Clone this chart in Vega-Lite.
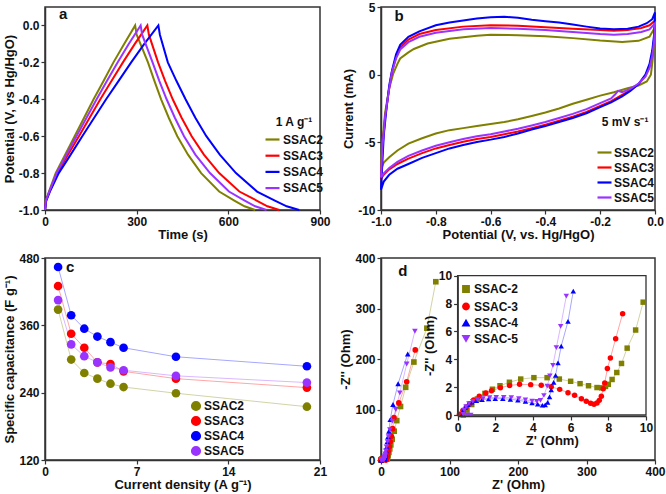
{
"$schema": "https://vega.github.io/schema/vega-lite/v6.json",
"padding": {"left": 2, "top": 0, "right": 0, "bottom": 2},
"background": "white",
"config": {
 "font": "Liberation Sans",
 "locale": {"number": {"decimal": ".", "thousands": ",", "grouping": [3], "currency": ["$", ""], "minus": "-"}},
 "view": {"stroke": "#333333", "strokeWidth": 1.5},
 "axis": {"grid": false, "labelFont": "Liberation Sans", "labelFontSize": 12, "labelFontWeight": "bold", "labelColor": "#111111", "titleFont": "Liberation Sans", "titleFontSize": 13, "titleFontWeight": "bold", "titleColor": "#111111", "domainColor": "#333333", "domainWidth": 1.5, "tickColor": "#333333", "tickSize": 4, "tickWidth": 1.2, "labelFlush": false, "labelOverlap": false, "labelPadding": 2, "titlePadding": 2},
 "legend": {"labelFont": "Liberation Sans", "labelFontSize": 12, "labelFontWeight": "bold", "labelColor": "#111111", "titleFont": "Liberation Sans", "titleFontSize": 12, "titleFontWeight": "bold", "titleColor": "#111111", "padding": 0, "rowPadding": 3, "labelOffset": 2, "zindex": 2, "symbolOpacity": 1}
},
"datasets": {
 "ga": [
  {"s":"SSAC2","t":0,"v":-1},{"s":"SSAC2","t":3,"v":-0.95},{"s":"SSAC2","t":13,"v":-0.9},{"s":"SSAC2","t":35,"v":-0.8},{"s":"SSAC2","t":66,"v":-0.7},{"s":"SSAC2","t":97,"v":-0.6},{"s":"SSAC2","t":128,"v":-0.5},{"s":"SSAC2","t":159,"v":-0.4},{"s":"SSAC2","t":192,"v":-0.3},{"s":"SSAC2","t":224,"v":-0.2},{"s":"SSAC2","t":259,"v":-0.1},{"s":"SSAC2","t":295,"v":0},
  {"s":"SSAC2","t":300,"v":-0.05},{"s":"SSAC2","t":337,"v":-0.2},{"s":"SSAC2","t":358,"v":-0.3},{"s":"SSAC2","t":380,"v":-0.4},{"s":"SSAC2","t":405,"v":-0.5},{"s":"SSAC2","t":433,"v":-0.6},{"s":"SSAC2","t":468,"v":-0.7},{"s":"SSAC2","t":511,"v":-0.8},{"s":"SSAC2","t":570,"v":-0.9},{"s":"SSAC2","t":621,"v":-0.95},{"s":"SSAC2","t":653,"v":-0.98},{"s":"SSAC2","t":688,"v":-1},
  {"s":"SSAC3","t":0,"v":-1},{"s":"SSAC3","t":3,"v":-0.95},{"s":"SSAC3","t":15,"v":-0.9},{"s":"SSAC3","t":40,"v":-0.8},{"s":"SSAC3","t":75,"v":-0.7},{"s":"SSAC3","t":111,"v":-0.6},{"s":"SSAC3","t":146,"v":-0.5},{"s":"SSAC3","t":181,"v":-0.4},{"s":"SSAC3","t":218,"v":-0.3},{"s":"SSAC3","t":255,"v":-0.2},{"s":"SSAC3","t":294,"v":-0.1},{"s":"SSAC3","t":335,"v":0},
  {"s":"SSAC3","t":340,"v":-0.05},{"s":"SSAC3","t":370,"v":-0.2},{"s":"SSAC3","t":393,"v":-0.3},{"s":"SSAC3","t":418,"v":-0.4},{"s":"SSAC3","t":447,"v":-0.5},{"s":"SSAC3","t":480,"v":-0.6},{"s":"SSAC3","t":520,"v":-0.7},{"s":"SSAC3","t":570,"v":-0.8},{"s":"SSAC3","t":636,"v":-0.9},{"s":"SSAC3","t":694,"v":-0.95},{"s":"SSAC3","t":728,"v":-0.98},{"s":"SSAC3","t":767,"v":-1},
  {"s":"SSAC4","t":0,"v":-1},{"s":"SSAC4","t":4,"v":-0.95},{"s":"SSAC4","t":16,"v":-0.9},{"s":"SSAC4","t":45,"v":-0.8},{"s":"SSAC4","t":84,"v":-0.7},{"s":"SSAC4","t":122,"v":-0.6},{"s":"SSAC4","t":161,"v":-0.5},{"s":"SSAC4","t":200,"v":-0.4},{"s":"SSAC4","t":241,"v":-0.3},{"s":"SSAC4","t":282,"v":-0.2},{"s":"SSAC4","t":325,"v":-0.1},{"s":"SSAC4","t":371,"v":0},
  {"s":"SSAC4","t":376,"v":-0.05},{"s":"SSAC4","t":402,"v":-0.2},{"s":"SSAC4","t":430,"v":-0.3},{"s":"SSAC4","t":460,"v":-0.4},{"s":"SSAC4","t":492,"v":-0.5},{"s":"SSAC4","t":528,"v":-0.6},{"s":"SSAC4","t":572,"v":-0.7},{"s":"SSAC4","t":625,"v":-0.8},{"s":"SSAC4","t":694,"v":-0.9},{"s":"SSAC4","t":754,"v":-0.95},{"s":"SSAC4","t":791,"v":-0.98},{"s":"SSAC4","t":832,"v":-1},
  {"s":"SSAC5","t":0,"v":-1},{"s":"SSAC5","t":3,"v":-0.95},{"s":"SSAC5","t":14,"v":-0.9},{"s":"SSAC5","t":38,"v":-0.8},{"s":"SSAC5","t":70,"v":-0.7},{"s":"SSAC5","t":103,"v":-0.6},{"s":"SSAC5","t":136,"v":-0.5},{"s":"SSAC5","t":169,"v":-0.4},{"s":"SSAC5","t":203,"v":-0.3},{"s":"SSAC5","t":238,"v":-0.2},{"s":"SSAC5","t":274,"v":-0.1},{"s":"SSAC5","t":313,"v":0},
  {"s":"SSAC5","t":318,"v":-0.05},{"s":"SSAC5","t":352,"v":-0.2},{"s":"SSAC5","t":374,"v":-0.3},{"s":"SSAC5","t":398,"v":-0.4},{"s":"SSAC5","t":425,"v":-0.5},{"s":"SSAC5","t":455,"v":-0.6},{"s":"SSAC5","t":492,"v":-0.7},{"s":"SSAC5","t":540,"v":-0.8},{"s":"SSAC5","t":602,"v":-0.9},{"s":"SSAC5","t":655,"v":-0.95},{"s":"SSAC5","t":688,"v":-0.98},{"s":"SSAC5","t":725,"v":-1}
 ],
 "gb": [
  {"s":"SSAC2","x":-1,"y":-7.0},{"s":"SSAC2","x":-0.995,"y":-5.0},{"s":"SSAC2","x":-0.985,"y":-2.8},{"s":"SSAC2","x":-0.97,"y":-1.0},{"s":"SSAC2","x":-0.955,"y":0.1},{"s":"SSAC2","x":-0.94,"y":0.8},{"s":"SSAC2","x":-0.93,"y":1.2},{"s":"SSAC2","x":-0.9,"y":1.65},{"s":"SSAC2","x":-0.88,"y":1.9},{"s":"SSAC2","x":-0.83,"y":2.3},{"s":"SSAC2","x":-0.75,"y":2.65},{"s":"SSAC2","x":-0.65,"y":2.88},{"s":"SSAC2","x":-0.6,"y":2.95},{"s":"SSAC2","x":-0.5,"y":2.92},{"s":"SSAC2","x":-0.4,"y":2.83},{"s":"SSAC2","x":-0.3,"y":2.7},{"s":"SSAC2","x":-0.2,"y":2.52},{"s":"SSAC2","x":-0.12,"y":2.42},{"s":"SSAC2","x":-0.06,"y":2.5},{"s":"SSAC2","x":-0.02,"y":2.8},{"s":"SSAC2","x":0,"y":3.5},
  {"s":"SSAC2","x":-0.003,"y":2.5},{"s":"SSAC2","x":-0.008,"y":1.2},{"s":"SSAC2","x":-0.015,"y":0},{"s":"SSAC2","x":-0.03,"y":-0.5},{"s":"SSAC2","x":-0.06,"y":-0.8},{"s":"SSAC2","x":-0.1,"y":-1.0},{"s":"SSAC2","x":-0.15,"y":-1.3},{"s":"SSAC2","x":-0.2,"y":-1.55},{"s":"SSAC2","x":-0.25,"y":-1.85},{"s":"SSAC2","x":-0.3,"y":-2.15},{"s":"SSAC2","x":-0.35,"y":-2.5},{"s":"SSAC2","x":-0.4,"y":-2.8},{"s":"SSAC2","x":-0.45,"y":-3.05},{"s":"SSAC2","x":-0.5,"y":-3.3},{"s":"SSAC2","x":-0.55,"y":-3.5},{"s":"SSAC2","x":-0.6,"y":-3.65},{"s":"SSAC2","x":-0.65,"y":-3.8},{"s":"SSAC2","x":-0.7,"y":-3.95},{"s":"SSAC2","x":-0.75,"y":-4.1},{"s":"SSAC2","x":-0.8,"y":-4.35},{"s":"SSAC2","x":-0.85,"y":-4.7},{"s":"SSAC2","x":-0.9,"y":-5.1},{"s":"SSAC2","x":-0.94,"y":-5.6},{"s":"SSAC2","x":-0.97,"y":-6.1},{"s":"SSAC2","x":-0.99,"y":-6.5},{"s":"SSAC2","x":-1,"y":-7.0},
  {"s":"SSAC3","x":-1,"y":-7.7},{"s":"SSAC3","x":-0.995,"y":-5.5},{"s":"SSAC3","x":-0.985,"y":-3.2},{"s":"SSAC3","x":-0.97,"y":-1.0},{"s":"SSAC3","x":-0.96,"y":0.2},{"s":"SSAC3","x":-0.945,"y":1.3},{"s":"SSAC3","x":-0.93,"y":2.0},{"s":"SSAC3","x":-0.9,"y":2.6},{"s":"SSAC3","x":-0.86,"y":3.0},{"s":"SSAC3","x":-0.8,"y":3.3},{"s":"SSAC3","x":-0.7,"y":3.55},{"s":"SSAC3","x":-0.6,"y":3.65},{"s":"SSAC3","x":-0.5,"y":3.62},{"s":"SSAC3","x":-0.4,"y":3.5},{"s":"SSAC3","x":-0.3,"y":3.4},{"s":"SSAC3","x":-0.2,"y":3.3},{"s":"SSAC3","x":-0.15,"y":3.25},{"s":"SSAC3","x":-0.1,"y":3.3},{"s":"SSAC3","x":-0.05,"y":3.45},{"s":"SSAC3","x":-0.02,"y":3.65},{"s":"SSAC3","x":0,"y":4.0},
  {"s":"SSAC3","x":-0.003,"y":2.7},{"s":"SSAC3","x":-0.01,"y":1.5},{"s":"SSAC3","x":-0.02,"y":0.6},{"s":"SSAC3","x":-0.035,"y":-0.1},{"s":"SSAC3","x":-0.06,"y":-0.7},{"s":"SSAC3","x":-0.09,"y":-1.15},{"s":"SSAC3","x":-0.12,"y":-1.5},{"s":"SSAC3","x":-0.16,"y":-1.95},{"s":"SSAC3","x":-0.2,"y":-2.3},{"s":"SSAC3","x":-0.25,"y":-2.75},{"s":"SSAC3","x":-0.3,"y":-3.1},{"s":"SSAC3","x":-0.35,"y":-3.4},{"s":"SSAC3","x":-0.4,"y":-3.7},{"s":"SSAC3","x":-0.45,"y":-3.95},{"s":"SSAC3","x":-0.5,"y":-4.2},{"s":"SSAC3","x":-0.55,"y":-4.4},{"s":"SSAC3","x":-0.6,"y":-4.6},{"s":"SSAC3","x":-0.65,"y":-4.75},{"s":"SSAC3","x":-0.7,"y":-4.95},{"s":"SSAC3","x":-0.75,"y":-5.2},{"s":"SSAC3","x":-0.8,"y":-5.45},{"s":"SSAC3","x":-0.85,"y":-5.8},{"s":"SSAC3","x":-0.9,"y":-6.2},{"s":"SSAC3","x":-0.94,"y":-6.6},{"s":"SSAC3","x":-0.97,"y":-7.0},{"s":"SSAC3","x":-0.99,"y":-7.4},{"s":"SSAC3","x":-1,"y":-7.7},
  {"s":"SSAC4","x":-1,"y":-8.5},{"s":"SSAC4","x":-0.995,"y":-6.5},{"s":"SSAC4","x":-0.99,"y":-4.5},{"s":"SSAC4","x":-0.98,"y":-2.5},{"s":"SSAC4","x":-0.97,"y":-0.8},{"s":"SSAC4","x":-0.96,"y":0.3},{"s":"SSAC4","x":-0.945,"y":1.5},{"s":"SSAC4","x":-0.93,"y":2.2},{"s":"SSAC4","x":-0.9,"y":2.8},{"s":"SSAC4","x":-0.86,"y":3.2},{"s":"SSAC4","x":-0.8,"y":3.65},{"s":"SSAC4","x":-0.75,"y":3.85},{"s":"SSAC4","x":-0.7,"y":4.0},{"s":"SSAC4","x":-0.65,"y":4.15},{"s":"SSAC4","x":-0.6,"y":4.25},{"s":"SSAC4","x":-0.55,"y":4.28},{"s":"SSAC4","x":-0.5,"y":4.2},{"s":"SSAC4","x":-0.45,"y":4.05},{"s":"SSAC4","x":-0.4,"y":3.95},{"s":"SSAC4","x":-0.35,"y":3.85},{"s":"SSAC4","x":-0.3,"y":3.7},{"s":"SSAC4","x":-0.25,"y":3.55},{"s":"SSAC4","x":-0.2,"y":3.42},{"s":"SSAC4","x":-0.15,"y":3.35},{"s":"SSAC4","x":-0.1,"y":3.4},{"s":"SSAC4","x":-0.06,"y":3.55},{"s":"SSAC4","x":-0.03,"y":3.8},{"s":"SSAC4","x":-0.01,"y":4.1},{"s":"SSAC4","x":0,"y":4.6},
  {"s":"SSAC4","x":-0.003,"y":3.0},{"s":"SSAC4","x":-0.01,"y":1.8},{"s":"SSAC4","x":-0.02,"y":0.8},{"s":"SSAC4","x":-0.035,"y":0},{"s":"SSAC4","x":-0.06,"y":-0.7},{"s":"SSAC4","x":-0.09,"y":-1.2},{"s":"SSAC4","x":-0.12,"y":-1.6},{"s":"SSAC4","x":-0.16,"y":-2.05},{"s":"SSAC4","x":-0.2,"y":-2.4},{"s":"SSAC4","x":-0.25,"y":-2.85},{"s":"SSAC4","x":-0.3,"y":-3.2},{"s":"SSAC4","x":-0.35,"y":-3.5},{"s":"SSAC4","x":-0.4,"y":-3.8},{"s":"SSAC4","x":-0.45,"y":-4.05},{"s":"SSAC4","x":-0.5,"y":-4.35},{"s":"SSAC4","x":-0.55,"y":-4.6},{"s":"SSAC4","x":-0.6,"y":-4.8},{"s":"SSAC4","x":-0.65,"y":-4.97},{"s":"SSAC4","x":-0.7,"y":-5.2},{"s":"SSAC4","x":-0.75,"y":-5.45},{"s":"SSAC4","x":-0.8,"y":-5.8},{"s":"SSAC4","x":-0.85,"y":-6.15},{"s":"SSAC4","x":-0.9,"y":-6.6},{"s":"SSAC4","x":-0.94,"y":-6.95},{"s":"SSAC4","x":-0.97,"y":-7.4},{"s":"SSAC4","x":-0.99,"y":-7.9},{"s":"SSAC4","x":-1,"y":-8.5},
  {"s":"SSAC5","x":-1,"y":-7.6},{"s":"SSAC5","x":-0.995,"y":-5.4},{"s":"SSAC5","x":-0.985,"y":-3.1},{"s":"SSAC5","x":-0.97,"y":-1.0},{"s":"SSAC5","x":-0.96,"y":0.2},{"s":"SSAC5","x":-0.945,"y":1.2},{"s":"SSAC5","x":-0.93,"y":1.85},{"s":"SSAC5","x":-0.9,"y":2.4},{"s":"SSAC5","x":-0.86,"y":2.8},{"s":"SSAC5","x":-0.8,"y":3.1},{"s":"SSAC5","x":-0.7,"y":3.35},{"s":"SSAC5","x":-0.6,"y":3.45},{"s":"SSAC5","x":-0.5,"y":3.4},{"s":"SSAC5","x":-0.4,"y":3.3},{"s":"SSAC5","x":-0.3,"y":3.15},{"s":"SSAC5","x":-0.2,"y":3.0},{"s":"SSAC5","x":-0.15,"y":2.95},{"s":"SSAC5","x":-0.1,"y":3.0},{"s":"SSAC5","x":-0.05,"y":3.15},{"s":"SSAC5","x":-0.02,"y":3.35},{"s":"SSAC5","x":0,"y":3.8},
  {"s":"SSAC5","x":-0.003,"y":2.5},{"s":"SSAC5","x":-0.01,"y":1.4},{"s":"SSAC5","x":-0.02,"y":0.5},{"s":"SSAC5","x":-0.035,"y":-0.15},{"s":"SSAC5","x":-0.06,"y":-0.65},{"s":"SSAC5","x":-0.09,"y":-1.05},{"s":"SSAC5","x":-0.12,"y":-1.3},{"s":"SSAC5","x":-0.135,"y":-1.2},{"s":"SSAC5","x":-0.145,"y":-1.45},{"s":"SSAC5","x":-0.16,"y":-1.75},{"s":"SSAC5","x":-0.2,"y":-2.1},{"s":"SSAC5","x":-0.25,"y":-2.55},{"s":"SSAC5","x":-0.3,"y":-2.9},{"s":"SSAC5","x":-0.35,"y":-3.2},{"s":"SSAC5","x":-0.4,"y":-3.5},{"s":"SSAC5","x":-0.45,"y":-3.75},{"s":"SSAC5","x":-0.5,"y":-4.0},{"s":"SSAC5","x":-0.55,"y":-4.2},{"s":"SSAC5","x":-0.6,"y":-4.4},{"s":"SSAC5","x":-0.65,"y":-4.55},{"s":"SSAC5","x":-0.7,"y":-4.75},{"s":"SSAC5","x":-0.75,"y":-5.0},{"s":"SSAC5","x":-0.8,"y":-5.25},{"s":"SSAC5","x":-0.85,"y":-5.6},{"s":"SSAC5","x":-0.9,"y":-6.0},{"s":"SSAC5","x":-0.94,"y":-6.45},{"s":"SSAC5","x":-0.97,"y":-6.9},{"s":"SSAC5","x":-0.99,"y":-7.3},{"s":"SSAC5","x":-1,"y":-7.6}
 ],
 "gc": [
  {"s":"SSAC2","j":1,"c":388},{"s":"SSAC2","j":2,"c":299},{"s":"SSAC2","j":3,"c":275},{"s":"SSAC2","j":4,"c":265},{"s":"SSAC2","j":5,"c":256},{"s":"SSAC2","j":6,"c":250},{"s":"SSAC2","j":10,"c":239},{"s":"SSAC2","j":20,"c":215},
  {"s":"SSAC3","j":1,"c":430},{"s":"SSAC3","j":2,"c":345},{"s":"SSAC3","j":3,"c":320},{"s":"SSAC3","j":4,"c":294},{"s":"SSAC3","j":5,"c":291},{"s":"SSAC3","j":6,"c":278},{"s":"SSAC3","j":10,"c":265},{"s":"SSAC3","j":20,"c":249},
  {"s":"SSAC4","j":1,"c":464},{"s":"SSAC4","j":2,"c":378},{"s":"SSAC4","j":3,"c":354},{"s":"SSAC4","j":4,"c":340},{"s":"SSAC4","j":5,"c":330},{"s":"SSAC4","j":6,"c":320},{"s":"SSAC4","j":10,"c":304},{"s":"SSAC4","j":20,"c":287},
  {"s":"SSAC5","j":1,"c":405},{"s":"SSAC5","j":2,"c":326},{"s":"SSAC5","j":3,"c":305},{"s":"SSAC5","j":4,"c":294},{"s":"SSAC5","j":5,"c":285},{"s":"SSAC5","j":6,"c":280},{"s":"SSAC5","j":10,"c":270},{"s":"SSAC5","j":20,"c":258}
 ],
 "gd": [
  {"s":"SSAC-2","zr":0.3,"zi":0},{"s":"SSAC-2","zr":0.5,"zi":0.35},{"s":"SSAC-2","zr":0.75,"zi":0.75},{"s":"SSAC-2","zr":1.05,"zi":1.15},{"s":"SSAC-2","zr":1.45,"zi":1.55},{"s":"SSAC-2","zr":1.85,"zi":1.85},{"s":"SSAC-2","zr":2.25,"zi":2.1},{"s":"SSAC-2","zr":2.75,"zi":2.35},{"s":"SSAC-2","zr":3.35,"zi":2.58},{"s":"SSAC-2","zr":4.05,"zi":2.68},{"s":"SSAC-2","zr":4.75,"zi":2.68},{"s":"SSAC-2","zr":5.4,"zi":2.58},{"s":"SSAC-2","zr":6.0,"zi":2.42},{"s":"SSAC-2","zr":6.5,"zi":2.25},{"s":"SSAC-2","zr":6.95,"zi":2.1},{"s":"SSAC-2","zr":7.4,"zi":1.97},{"s":"SSAC-2","zr":7.65,"zi":1.95},{"s":"SSAC-2","zr":7.85,"zi":2.05},{"s":"SSAC-2","zr":8.0,"zi":2.2},{"s":"SSAC-2","zr":8.2,"zi":2.55},{"s":"SSAC-2","zr":8.45,"zi":3.05},{"s":"SSAC-2","zr":8.7,"zi":3.7},{"s":"SSAC-2","zr":9.0,"zi":4.8},{"s":"SSAC-2","zr":9.45,"zi":6.1},{"s":"SSAC-2","zr":9.85,"zi":8.1},
  {"s":"SSAC-2","zr":10.5,"zi":10},{"s":"SSAC-2","zr":11.5,"zi":15},{"s":"SSAC-2","zr":12.8,"zi":22},{"s":"SSAC-2","zr":14.3,"zi":30},{"s":"SSAC-2","zr":16.3,"zi":41},{"s":"SSAC-2","zr":19.3,"zi":57},{"s":"SSAC-2","zr":23,"zi":78},{"s":"SSAC-2","zr":28.5,"zi":106},{"s":"SSAC-2","zr":36,"zi":144},{"s":"SSAC-2","zr":48,"zi":194},{"s":"SSAC-2","zr":67,"zi":261},{"s":"SSAC-2","zr":80,"zi":353},
  {"s":"SSAC-3","zr":0.1,"zi":0.05},{"s":"SSAC-3","zr":0.28,"zi":0.33},{"s":"SSAC-3","zr":0.46,"zi":0.57},{"s":"SSAC-3","zr":0.64,"zi":0.81},{"s":"SSAC-3","zr":0.85,"zi":1.08},{"s":"SSAC-3","zr":1.15,"zi":1.35},{"s":"SSAC-3","zr":1.5,"zi":1.58},{"s":"SSAC-3","zr":1.8,"zi":1.74},{"s":"SSAC-3","zr":2.27,"zi":1.96},{"s":"SSAC-3","zr":2.76,"zi":2.12},{"s":"SSAC-3","zr":3.29,"zi":2.2},{"s":"SSAC-3","zr":3.88,"zi":2.18},{"s":"SSAC-3","zr":4.44,"zi":2.13},{"s":"SSAC-3","zr":4.97,"zi":2.03},{"s":"SSAC-3","zr":5.42,"zi":1.84},{"s":"SSAC-3","zr":5.86,"zi":1.6},{"s":"SSAC-3","zr":6.21,"zi":1.41},{"s":"SSAC-3","zr":6.57,"zi":1.17},{"s":"SSAC-3","zr":6.83,"zi":0.98},{"s":"SSAC-3","zr":7.06,"zi":0.84},{"s":"SSAC-3","zr":7.24,"zi":0.77},{"s":"SSAC-3","zr":7.4,"zi":0.86},{"s":"SSAC-3","zr":7.52,"zi":1.05},{"s":"SSAC-3","zr":7.63,"zi":1.34},{"s":"SSAC-3","zr":7.73,"zi":1.89},{"s":"SSAC-3","zr":7.81,"zi":2.3},{"s":"SSAC-3","zr":7.95,"zi":3.33},{"s":"SSAC-3","zr":8.11,"zi":4.09},{"s":"SSAC-3","zr":8.39,"zi":5.48},{"s":"SSAC-3","zr":8.76,"zi":7.27},
  {"s":"SSAC-3","zr":9.5,"zi":11},{"s":"SSAC-3","zr":10.5,"zi":17},{"s":"SSAC-3","zr":12,"zi":26},{"s":"SSAC-3","zr":13.5,"zi":36},{"s":"SSAC-3","zr":15,"zi":47},{"s":"SSAC-3","zr":17,"zi":62},{"s":"SSAC-3","zr":19,"zi":84},{"s":"SSAC-3","zr":26,"zi":113},{"s":"SSAC-3","zr":37.5,"zi":155},{"s":"SSAC-3","zr":50,"zi":218},
  {"s":"SSAC-4","zr":0.25,"zi":0.05},{"s":"SSAC-4","zr":0.3,"zi":0.3},{"s":"SSAC-4","zr":0.4,"zi":0.55},{"s":"SSAC-4","zr":0.55,"zi":0.75},{"s":"SSAC-4","zr":0.75,"zi":0.92},{"s":"SSAC-4","zr":1.0,"zi":1.03},{"s":"SSAC-4","zr":1.3,"zi":1.1},{"s":"SSAC-4","zr":1.65,"zi":1.15},{"s":"SSAC-4","zr":2.0,"zi":1.17},{"s":"SSAC-4","zr":2.4,"zi":1.17},{"s":"SSAC-4","zr":2.8,"zi":1.13},{"s":"SSAC-4","zr":3.2,"zi":1.06},{"s":"SSAC-4","zr":3.6,"zi":0.97},{"s":"SSAC-4","zr":3.95,"zi":0.87},{"s":"SSAC-4","zr":4.25,"zi":0.78},{"s":"SSAC-4","zr":4.5,"zi":0.7},{"s":"SSAC-4","zr":4.65,"zi":0.72},{"s":"SSAC-4","zr":4.78,"zi":0.9},{"s":"SSAC-4","zr":4.88,"zi":1.3},{"s":"SSAC-4","zr":4.97,"zi":1.8},{"s":"SSAC-4","zr":5.1,"zi":2.35},{"s":"SSAC-4","zr":5.2,"zi":2.85},{"s":"SSAC-4","zr":5.33,"zi":3.75},{"s":"SSAC-4","zr":5.5,"zi":4.95},{"s":"SSAC-4","zr":5.86,"zi":6.72},{"s":"SSAC-4","zr":6.14,"zi":8.9},
  {"s":"SSAC-4","zr":6.8,"zi":12},{"s":"SSAC-4","zr":7.5,"zi":18},{"s":"SSAC-4","zr":8.3,"zi":26},{"s":"SSAC-4","zr":9.2,"zi":36},{"s":"SSAC-4","zr":10.3,"zi":46},{"s":"SSAC-4","zr":11.5,"zi":57},{"s":"SSAC-4","zr":13.5,"zi":80},{"s":"SSAC-4","zr":17.5,"zi":110},{"s":"SSAC-4","zr":25,"zi":151},{"s":"SSAC-4","zr":39,"zi":210},
  {"s":"SSAC-5","zr":0.7,"zi":0},{"s":"SSAC-5","zr":0.5,"zi":0},{"s":"SSAC-5","zr":0.3,"zi":0.05},{"s":"SSAC-5","zr":0.35,"zi":0.35},{"s":"SSAC-5","zr":0.45,"zi":0.6},{"s":"SSAC-5","zr":0.6,"zi":0.82},{"s":"SSAC-5","zr":0.8,"zi":0.98},{"s":"SSAC-5","zr":1.05,"zi":1.1},{"s":"SSAC-5","zr":1.35,"zi":1.18},{"s":"SSAC-5","zr":1.7,"zi":1.24},{"s":"SSAC-5","zr":2.05,"zi":1.27},{"s":"SSAC-5","zr":2.45,"zi":1.27},{"s":"SSAC-5","zr":2.85,"zi":1.24},{"s":"SSAC-5","zr":3.25,"zi":1.17},{"s":"SSAC-5","zr":3.6,"zi":1.08},{"s":"SSAC-5","zr":3.95,"zi":1.0},{"s":"SSAC-5","zr":4.2,"zi":0.98},{"s":"SSAC-5","zr":4.4,"zi":1.05},{"s":"SSAC-5","zr":4.58,"zi":1.4},{"s":"SSAC-5","zr":4.76,"zi":2.08},{"s":"SSAC-5","zr":4.9,"zi":2.8},{"s":"SSAC-5","zr":5.06,"zi":3.56},{"s":"SSAC-5","zr":5.24,"zi":4.83},{"s":"SSAC-5","zr":5.47,"zi":6.36},{"s":"SSAC-5","zr":5.77,"zi":8.54},
  {"s":"SSAC-5","zr":6.3,"zi":12},{"s":"SSAC-5","zr":7,"zi":18},{"s":"SSAC-5","zr":8,"zi":26},{"s":"SSAC-5","zr":9.5,"zi":36},{"s":"SSAC-5","zr":11,"zi":46},{"s":"SSAC-5","zr":13,"zi":60},{"s":"SSAC-5","zr":16.5,"zi":77},{"s":"SSAC-5","zr":21.5,"zi":100},{"s":"SSAC-5","zr":27.5,"zi":133},{"s":"SSAC-5","zr":37.5,"zi":190},{"s":"SSAC-5","zr":49.5,"zi":255}
 ]
},
"columns": 2,
"bounds": "flush",
"spacing": {"row": 48, "column": 61},
"resolve": {"scale": {"x": "independent", "y": "independent", "color": "independent", "shape": "independent"}, "legend": {"color": "independent", "shape": "independent"}},
"concat": [
 {
  "width": 275, "height": 203,
  "layer": [
   {"data": {"name": "ga"}, "mark": {"type": "line", "strokeWidth": 2},
    "encoding": {
     "x": {"field": "t", "type": "quantitative", "scale": {"domain": [0, 900], "nice": false}, "axis": {"values": [0, 300, 600, 900], "title": "Time (s)", "titlePadding": 1}},
     "y": {"field": "v", "type": "quantitative", "scale": {"domain": [-1, 0.1], "nice": false, "zero": false}, "axis": {"values": [-1, -0.8, -0.6, -0.4, -0.2, 0], "format": ".1f", "title": "Potential (V, vs Hg/HgO)"}},
     "color": {"field": "s", "type": "nominal", "scale": {"domain": ["SSAC2", "SSAC3", "SSAC4", "SSAC5"], "range": ["#808000", "#ff0000", "#0000ff", "#9933ff"]},
      "legend": {"title": "1 A g⁻¹", "orient": "none", "legendX": 219, "legendY": 110, "titleAnchor": "middle", "symbolType": "stroke", "symbolStrokeWidth": 2.2, "symbolSize": 196, "rowPadding": 1.2, "titlePadding": 2}}
    }},
   {"data": {"values": [{"lab": "a"}]}, "mark": {"type": "text", "fontSize": 15, "fontWeight": "bold", "align": "left", "baseline": "middle", "color": "#111111"},
    "encoding": {"x": {"datum": 46, "type": "quantitative"}, "y": {"datum": 0.06, "type": "quantitative"}, "text": {"field": "lab"}}}
  ]
 },
 {
  "width": 274, "height": 203,
  "layer": [
   {"data": {"name": "gb"}, "mark": {"type": "line", "strokeWidth": 2},
    "encoding": {
     "x": {"field": "x", "type": "quantitative", "scale": {"domain": [-1, 0], "nice": false}, "axis": {"values": [-1, -0.8, -0.6, -0.4, -0.2, 0], "format": ".1f", "title": "Potential (V, vs. Hg/HgO)", "titlePadding": 1}},
     "y": {"field": "y", "type": "quantitative", "scale": {"domain": [-10, 5], "nice": false}, "axis": {"values": [-10, -5, 0, 5], "title": "Current (mA)"}},
     "color": {"field": "s", "type": "nominal", "scale": {"domain": ["SSAC2", "SSAC3", "SSAC4", "SSAC5"], "range": ["#808000", "#ff0000", "#0000ff", "#9933ff"]},
      "legend": {"title": null, "orient": "none", "legendX": 215, "legendY": 137, "symbolType": "stroke", "symbolStrokeWidth": 2.2, "symbolSize": 196, "rowPadding": 0, "labelOffset": 1}},
     "order": {"value": null}
    }},
   {"data": {"values": [{"lab": "b"}]}, "mark": {"type": "text", "fontSize": 15, "fontWeight": "bold", "align": "left", "baseline": "middle", "color": "#111111"},
    "encoding": {"x": {"datum": -0.951, "type": "quantitative"}, "y": {"datum": 4.3, "type": "quantitative"}, "text": {"field": "lab"}}},
   {"data": {"values": [{"lab": "5 mV s⁻¹"}]}, "mark": {"type": "text", "fontSize": 12, "fontWeight": "bold", "align": "center", "baseline": "middle", "color": "#111111"},
    "encoding": {"x": {"datum": -0.109, "type": "quantitative"}, "y": {"datum": -3.5, "type": "quantitative"}, "text": {"field": "lab"}}}
  ]
 },
 {
  "width": 275, "height": 202,
  "layer": [
   {"data": {"name": "gc"}, "mark": {"type": "line", "strokeWidth": 1, "opacity": 0.35},
    "encoding": {
     "x": {"field": "j", "type": "quantitative", "scale": {"domain": [0, 21], "nice": false}, "axis": {"values": [0, 7, 14, 21], "title": "Current density (A g⁻¹)", "titlePadding": 1}},
     "y": {"field": "c", "type": "quantitative", "scale": {"domain": [120, 480], "nice": false, "zero": false}, "axis": {"values": [120, 240, 360, 480], "title": "Specific capacitance (F g⁻¹)"}},
     "color": {"field": "s", "type": "nominal", "scale": {"domain": ["SSAC2", "SSAC3", "SSAC4", "SSAC5"], "range": ["#808000", "#ff0000", "#0000ff", "#9933ff"]},
      "legend": {"title": null, "orient": "none", "legendX": 145, "legendY": 142, "symbolType": "circle", "symbolSize": 75, "rowPadding": -1, "symbolOpacity": 1}}
    }},
   {"data": {"name": "gc"}, "mark": {"type": "point", "filled": true, "size": 75, "opacity": 1, "shape": "circle"},
    "encoding": {
     "x": {"field": "j", "type": "quantitative"},
     "y": {"field": "c", "type": "quantitative"},
     "color": {"field": "s", "type": "nominal", "scale": {"domain": ["SSAC2", "SSAC3", "SSAC4", "SSAC5"], "range": ["#808000", "#ff0000", "#0000ff", "#9933ff"]},
      "legend": {"title": null, "orient": "none", "legendX": 145, "legendY": 142, "symbolType": "circle", "symbolSize": 75, "rowPadding": -1, "symbolOpacity": 1}}
    }},
   {"data": {"values": [{"lab": "c"}]}, "mark": {"type": "text", "fontSize": 15, "fontWeight": "bold", "align": "left", "baseline": "middle", "color": "#111111"},
    "encoding": {"x": {"datum": 1.6, "type": "quantitative"}, "y": {"datum": 464, "type": "quantitative"}, "text": {"field": "lab"}}}
  ]
 },
 {
  "width": 274, "height": 202,
  "resolve": {"scale": {"x": "independent", "y": "independent"}, "axis": {"x": "independent", "y": "independent"}},
  "layer": [
   {
    "layer": [
     {"data": {"name": "gd"}, "mark": {"type": "line", "strokeWidth": 1, "opacity": 0.35},
      "encoding": {
       "x": {"field": "zr", "type": "quantitative", "scale": {"domain": [0, 400], "nice": false}, "axis": {"values": [0, 100, 200, 300, 400], "title": "Z' (Ohm)", "titlePadding": 1}},
       "y": {"field": "zi", "type": "quantitative", "scale": {"domain": [0, 400], "nice": false}, "axis": {"values": [0, 100, 200, 300, 400], "title": "-Z'' (Ohm)"}},
       "color": {"field": "s", "type": "nominal", "scale": {"domain": ["SSAC-2", "SSAC-3", "SSAC-4", "SSAC-5"], "range": ["#808000", "#ff0000", "#0000ff", "#9933ff"]}},
       "order": {"value": null}
      }},
     {"data": {"name": "gd"}, "mark": {"type": "point", "filled": true, "size": 32, "opacity": 1},
      "encoding": {
       "x": {"field": "zr", "type": "quantitative"},
       "y": {"field": "zi", "type": "quantitative"},
       "color": {"field": "s", "type": "nominal", "scale": {"domain": ["SSAC-2", "SSAC-3", "SSAC-4", "SSAC-5"], "range": ["#808000", "#ff0000", "#0000ff", "#9933ff"]},
        "legend": {"title": null, "orient": "none", "legendX": 79, "legendY": 25, "symbolSize": 40, "rowPadding": 3.5, "symbolOpacity": 1}},
       "shape": {"field": "s", "type": "nominal", "scale": {"domain": ["SSAC-2", "SSAC-3", "SSAC-4", "SSAC-5"], "range": ["square", "circle", "triangle-up", "triangle-down"]},
        "legend": {"title": null, "orient": "none", "legendX": 79, "legendY": 25, "symbolSize": 40, "rowPadding": 3.5, "symbolOpacity": 1}}
      }},
     {"data": {"values": [{"lab": "d"}]}, "mark": {"type": "text", "fontSize": 15, "fontWeight": "bold", "align": "left", "baseline": "middle", "color": "#111111"},
      "encoding": {"x": {"datum": 25, "type": "quantitative"}, "y": {"datum": 375, "type": "quantitative"}, "text": {"field": "lab"}}}
    ]
   },
   {
    "layer": [
     {"data": {"values": [{"k": 1}]}, "mark": {"type": "rect", "fill": "white", "stroke": "#333333", "strokeWidth": 1.3},
      "encoding": {
       "x": {"datum": 0, "type": "quantitative", "scale": {"domain": [0, 10], "range": [76.6, 265], "nice": false}, "axis": {"orient": "bottom", "offset": -44, "values": [0, 2, 4, 6, 8, 10], "title": "Z' (Ohm)", "titlePadding": 1, "zindex": 1}},
       "x2": {"datum": 10},
       "y": {"datum": 0, "type": "quantitative", "scale": {"domain": [0, 10], "range": [157, 17.7], "nice": false}, "axis": {"orient": "left", "offset": -76.6, "values": [0, 2, 4, 6, 8, 10], "title": "-Z'' (Ohm)", "zindex": 1}},
       "y2": {"datum": 10}
      }},
     {"data": {"name": "gd"}, "transform": [{"filter": "datum.zr <= 10.05 && datum.zi <= 10.05"}], "mark": {"type": "line", "strokeWidth": 1, "opacity": 0.35},
      "encoding": {
       "x": {"field": "zr", "type": "quantitative"},
       "y": {"field": "zi", "type": "quantitative"},
       "color": {"field": "s", "type": "nominal"},
       "order": {"value": null}
      }},
     {"data": {"name": "gd"}, "transform": [{"filter": "datum.zr <= 10.05 && datum.zi <= 10.05"}], "mark": {"type": "point", "filled": true, "size": 30, "opacity": 1},
      "encoding": {
       "x": {"field": "zr", "type": "quantitative"},
       "y": {"field": "zi", "type": "quantitative"},
       "color": {"field": "s", "type": "nominal"},
       "shape": {"field": "s", "type": "nominal"}
      }}
    ]
   }
  ]
 }
]
}
